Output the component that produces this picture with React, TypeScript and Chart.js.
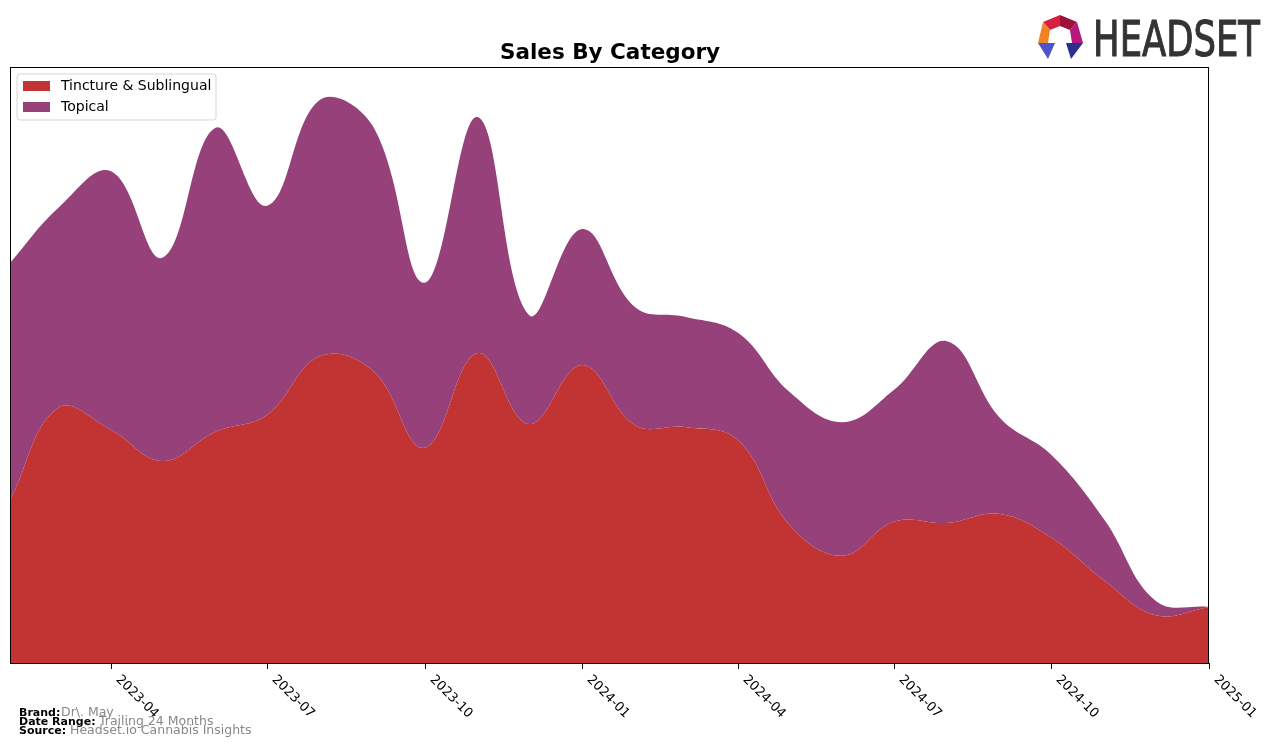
import React, { useEffect, useRef } from "react";
import { Chart, registerables } from "chart.js";

Chart.register(...registerables);

const months = [
  "2023-02", "2023-03", "2023-04", "2023-05", "2023-06", "2023-07", "2023-08", "2023-09",
  "2023-10", "2023-11", "2023-12", "2024-01", "2024-02", "2024-03", "2024-04", "2024-05",
  "2024-06", "2024-07", "2024-08", "2024-09", "2024-10", "2024-11", "2024-12", "2025-01",
];
const tincture = [
  27.3, 42.8, 39.1, 33.9, 38.8, 41.6, 51.5, 49.0, 36.1, 52.0, 40.1, 50.0,
  39.9, 39.6, 37.4, 23.2, 18.0, 23.7, 23.5, 25.0, 21.0, 13.8, 8.0, 9.4,
];
const topical = [
  39.8, 33.5, 43.4, 34.1, 51.0, 35.1, 43.0, 41.0, 27.7, 39.6, 18.3, 22.8,
  19.8, 18.5, 18.0, 22.3, 22.4, 22.1, 30.5, 16.1, 13.9, 10.2, 2.4, 0.0,
];
const tickLabels = ["2023-04", "2023-07", "2023-10", "2024-01", "2024-04", "2024-07", "2024-10", "2025-01"];
const seriesNames = ["Tincture & Sublingual", "Topical"];
const seriesColors = ["#C13433", "#96417A"];

const dayOf = (m: string) => {
  const [y, mo] = m.split("-").map(Number);
  return (Date.UTC(y, mo - 1, 1) - Date.UTC(2023, 1, 1)) / 86400000;
};

const decorPlugin = {
  id: "decor",
  afterDraw(chart: any) {
    const ctx = chart.ctx as CanvasRenderingContext2D;
    const { left, right, top, bottom } = chart.chartArea;
    const xs = chart.scales.x;
    ctx.save();
    // frame
    ctx.strokeStyle = "#000";
    ctx.lineWidth = 1;
    ctx.strokeRect(left + 0.5, top + 0.5, right - left - 1, bottom - top);
    // ticks
    ctx.font = "13px 'DejaVu Sans'";
    ctx.fillStyle = "#000";
    tickLabels.forEach((t) => {
      const x = Math.round(xs.getPixelForValue(dayOf(t))) + 0.5;
      ctx.beginPath();
      ctx.moveTo(x, bottom);
      ctx.lineTo(x, bottom + 6);
      ctx.stroke();
      ctx.save();
      ctx.translate(x + 11, bottom + 10);
      ctx.rotate(Math.PI / 4);
      ctx.textAlign = "left";
      ctx.textBaseline = "top";
      ctx.fillText(t, 0, 0);
      ctx.restore();
    });
    // title
    ctx.font = "bold 21.5px 'DejaVu Sans'";
    ctx.textAlign = "center";
    ctx.textBaseline = "alphabetic";
    ctx.fillText("Sales By Category", 610, 59);
    // legend
    const lx = 17, ly = 74, lw = 199, lh = 46, r = 3;
    ctx.beginPath();
    ctx.moveTo(lx + r, ly);
    ctx.arcTo(lx + lw, ly, lx + lw, ly + lh, r);
    ctx.arcTo(lx + lw, ly + lh, lx, ly + lh, r);
    ctx.arcTo(lx, ly + lh, lx, ly, r);
    ctx.arcTo(lx, ly, lx + lw, ly, r);
    ctx.closePath();
    ctx.fillStyle = "rgba(255,255,255,0.8)";
    ctx.fill();
    ctx.strokeStyle = "#D5D5D5";
    ctx.stroke();
    ctx.font = "14px 'DejaVu Sans'";
    ctx.textAlign = "left";
    ctx.textBaseline = "middle";
    seriesNames.forEach((n, i) => {
      const cy = 86 + i * 21;
      ctx.fillStyle = seriesColors[i];
      ctx.fillRect(23, cy - 5, 27, 10);
      ctx.fillStyle = "#000";
      ctx.fillText(n, 61, cy + 0.5);
    });
    // footer
    const foot = [
      ["Brand:", "Dr\\. May", 716, 61],
      ["Date Range:", "Trailing 24 Months", 725, 99],
      ["Source:", "Headset.io Cannabis Insights", 734, 70],
    ] as const;
    ctx.textBaseline = "alphabetic";
    foot.forEach(([b, g, y, gx]) => {
      ctx.font = "bold 11px 'DejaVu Sans'";
      ctx.fillStyle = "#000";
      ctx.fillText(b, 19, y);
      ctx.font = "12.5px 'DejaVu Sans'";
      ctx.fillStyle = "#888";
      ctx.fillText(g, gx, y);
    });
    // logo icon
    const polys: [string, number[][]][] = [
      ["#D7213E", [[1043, 22], [1060, 15], [1060, 26], [1050, 30]]],
      ["#9E1238", [[1060, 15], [1077, 22], [1070, 30], [1060, 26]]],
      ["#F08424", [[1043, 22], [1038, 43], [1048, 43], [1050, 30]]],
      ["#B5187E", [[1077, 22], [1083, 43], [1072, 43], [1070, 30]]],
      ["#4F52C8", [[1038, 43], [1055, 43], [1048, 59]]],
      ["#2D2F8F", [[1066, 43], [1083, 43], [1071, 59]]],
    ];
    polys.forEach(([c, pts]) => {
      ctx.beginPath();
      pts.forEach(([px, py], i) => (i ? ctx.lineTo(px, py) : ctx.moveTo(px, py)));
      ctx.closePath();
      ctx.fillStyle = c;
      ctx.fill();
    });
    // logo text
    ctx.font = "50px 'DejaVu Sans'";
    ctx.fillStyle = "#333";
    ctx.strokeStyle = "#333";
    ctx.lineWidth = 1.2;
    ctx.textBaseline = "alphabetic";
    const w = ctx.measureText("HEADSET").width;
    ctx.save();
    ctx.translate(1093, 56);
    ctx.scale(167 / w, 1);
    ctx.fillText("HEADSET", 0, 0);
    ctx.strokeText("HEADSET", 0, 0);
    ctx.restore();
    ctx.restore();
  },
};

export default function App() {
  const ref = useRef<HTMLCanvasElement>(null);
  useEffect(() => {
    if (!ref.current) return;
    const mk = (vals: number[]) => months.map((m, i) => ({ x: dayOf(m), y: vals[i] }));
    const chart = new Chart(ref.current, {
      type: "line",
      data: {
        datasets: [
          {
            label: seriesNames[0],
            data: mk(tincture),
            backgroundColor: seriesColors[0],
            borderColor: seriesColors[0],
            borderWidth: 0,
            fill: "origin",
            pointRadius: 0,
            tension: 0.4,
          },
          {
            label: seriesNames[1],
            data: mk(topical),
            backgroundColor: seriesColors[1],
            borderColor: seriesColors[1],
            borderWidth: 0,
            fill: "-1",
            pointRadius: 0,
            tension: 0.4,
          },
        ],
      },
      options: {
        animation: false,
        responsive: false,
        layout: { padding: { left: 10, top: 67, right: 67, bottom: 85 } },
        scales: {
          x: { type: "linear", min: 0, max: dayOf("2025-01"), display: false },
          y: { stacked: true, min: 0, max: 100, display: false },
        },
        plugins: { legend: { display: false }, tooltip: { enabled: false }, title: { display: false } },
      },
      plugins: [decorPlugin],
    });
    return () => chart.destroy();
  }, []);
  return (
    <div style={{ position: "absolute", left: 0, top: 0, width: 1276, height: 748, background: "#fff" }}>
      <canvas ref={ref} width={1276} height={748} />
    </div>
  );
}
